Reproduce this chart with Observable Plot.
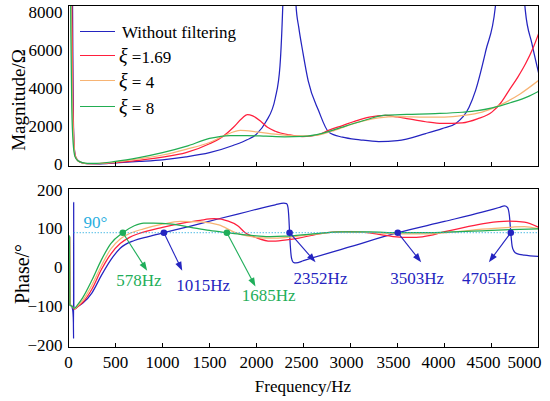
<!DOCTYPE html>
<html><head><meta charset="utf-8">
<script src="https://cdn.jsdelivr.net/npm/d3@7"></script>
<script src="https://cdn.jsdelivr.net/npm/@observablehq/plot@0.6"></script>
<style>
body{margin:0;background:#fff;}
#wrap{position:relative;width:550px;height:401px;overflow:hidden;font-family:'Liberation Serif',serif;color:#000;}
.abs{position:absolute;white-space:nowrap;line-height:1;font-family:'Liberation Serif',serif;}
.plot{position:absolute;left:0;}
.plot text{font-family:'Liberation Serif',serif;}
</style></head><body><div id="wrap"></div>
<script>
// ---------- data ----------
const seriesNames = ["Without filtering", "ξ =1.69", "ξ = 4", "ξ = 8"];
const freqTicks = [0, 500, 1000, 1500, 2000, 2500, 3000, 3500, 4000, 4500, 5000];
const magTicks = [0, 2000, 4000, 6000, 8000];
const phaseTicks = [-200, -100, 0, 100, 200];

// Magnitude (Ω)
const magBlueF = [12, 25, 35, 43, 50, 60, 75, 100, 150, 200, 300, 400, 500, 750, 1000, 1250, 1500, 1750, 1900, 2000, 2100, 2200, 2250, 2280, 2310, 2350, 2390, 2420, 2450, 2490, 2550, 2660, 2770, 2915, 3100, 3300, 3500, 3800, 3975, 4120, 4260, 4330, 4440, 4540, 4600, 4705, 4800, 4860, 4930, 5000];
const magBlue  = [30000, 20000, 12000, 8400, 3000, 1000, 400, 220, 80, 40, 35, 50, 80, 160, 250, 400, 620, 1000, 1300, 1600, 2250, 3500, 5200, 8400, 14000, 40000, 14000, 8400, 7200, 6000, 4400, 2840, 1700, 1436, 1300, 1210, 1260, 1630, 1890, 2160, 3000, 3890, 6000, 8260, 14000, 40000, 14000, 8100, 6360, 4840];
const magRedF = [10, 25, 35, 45, 55, 70, 100, 150, 200, 300, 500, 750, 1000, 1250, 1500, 1650, 1755, 1850, 1904, 1960, 2050, 2117, 2200, 2350, 2490, 2650, 2766, 2915, 3050, 3200, 3370, 3500, 3617, 3800, 3975, 4188, 4350, 4507, 4600, 4685, 4780, 4862, 4940, 5000];
const magRed  = [30000, 15000, 9000, 4000, 1500, 500, 200, 80, 40, 40, 100, 220, 385, 620, 1090, 1500, 1960, 2450, 2630, 2560, 2250, 1960, 1750, 1560, 1470, 1560, 1800, 2050, 2280, 2490, 2580, 2500, 2400, 2250, 2160, 2190, 2400, 2770, 3250, 3890, 4600, 5300, 6100, 6870];
const magOrangeF = [8, 20, 30, 40, 55, 70, 100, 150, 200, 300, 500, 750, 1000, 1250, 1500, 1650, 1830, 2000, 2200, 2400, 2600, 2800, 3000, 3300, 3500, 3800, 4000, 4200, 4400, 4600, 4800, 5000];
const magOrange  = [30000, 15000, 8000, 3500, 1300, 450, 200, 90, 50, 50, 130, 300, 500, 800, 1160, 1500, 1790, 1720, 1600, 1510, 1520, 1750, 2100, 2450, 2520, 2500, 2500, 2580, 2760, 3150, 3700, 4420];
const magGreenF = [5, 15, 25, 35, 50, 70, 100, 150, 200, 300, 500, 750, 1000, 1250, 1500, 1720, 1900, 2100, 2300, 2500, 2700, 2900, 3100, 3370, 3600, 3900, 4188, 4350, 4507, 4700, 4900, 5000];
const magGreen  = [30000, 15000, 7000, 3000, 1100, 400, 200, 100, 60, 60, 160, 360, 620, 950, 1370, 1525, 1520, 1490, 1460, 1480, 1640, 1950, 2250, 2600, 2640, 2680, 2750, 2830, 2980, 3250, 3600, 3850];

// Phase (°)
const phBlueF = [5, 30, 45, 52, 54, 55, 56.5, 60, 75, 100, 150, 250, 350, 450, 550, 700, 850, 1015, 1300, 1600, 1900, 2200, 2290, 2320, 2335, 2345, 2352, 2360, 2372, 2390, 2420, 2500, 3000, 3503, 4000, 4400, 4580, 4640, 4670, 4690, 4705, 4720, 4740, 4770, 4850, 5000];
const phBlue  = [-95, -98, -110, -140, -183, 168, -100, -106, -105, -100, -92, -65, -20, 20, 50, 70, 80, 90, 107, 126, 144, 162, 166, 165, 155, 125, 90, 55, 25, 14, 12, 18, 54, 90, 119, 143, 155, 159, 155, 135, 90, 55, 42, 36, 32, 29];
const phRedF = [5, 12, 16, 40, 60, 100, 150, 250, 350, 450, 550, 650, 750, 1000, 1200, 1400, 1550, 1700, 1800, 1880, 2000, 2150, 2300, 2450, 2600, 2750, 2950, 3150, 3350, 3550, 3700, 3850, 3960, 4200, 4450, 4680, 4850, 5000];
const phRed  = [80, 78, -95, -100, -107, -100, -90, -55, -5, 35, 62, 78, 88, 104, 114, 122, 126, 120, 108, 90, 77, 68, 71, 76, 84, 90, 93, 91, 84, 78, 78, 83, 90, 103, 115, 120, 117, 104];
const phOrangeF = [5, 12, 16, 40, 60, 100, 150, 250, 350, 450, 550, 650, 800, 1000, 1190, 1400, 1600, 1777, 1900, 2050, 2200, 2400, 2650, 2900, 3200, 3500, 3800, 4100, 4400, 4700, 4850, 5000];
const phOrange  = [80, 78, -95, -100, -106, -98, -85, -45, 5, 48, 74, 88, 100, 112, 119, 118, 110, 90, 82, 77, 76, 80, 87, 92, 91, 87, 87, 92, 99, 104, 106, 100];
const phGreenF = [3, 12, 15, 40, 60, 100, 150, 250, 350, 450, 578, 700, 800, 900, 1100, 1300, 1500, 1685, 1850, 2000, 2150, 2300, 2600, 2900, 3200, 3500, 3800, 4100, 4400, 4700, 5000];
const phGreen  = [83, 80, -97, -100, -105, -95, -78, -32, 20, 62, 90, 108, 115, 115, 112, 104, 96, 90, 85, 82, 80, 81, 87, 92, 92, 90, 90, 92, 95, 98, 100];

// 90° reference and crossing annotations
const refPhase = 90;
const refStartFreq = 60;
const refLabel = "90°";
const refLabelFreq = 287, refLabelPhase = 116;
const annFreq   = [578, 1015, 1685, 2352, 3503, 4705];
const annSeries = [3, 0, 3, 0, 0, 0];
const annLabels = ["578Hz", "1015Hz", "1685Hz", "2352Hz", "3503Hz", "4705Hz"];
const tipFreq   = [837, 1210, 1989, 2628, 3752, 4472];
const tipPhase  = [-8, -8, -49, 14, 14, 14];
const labFreq   = [748, 1433, 2128, 2681, 3709, 4472];
const labPhase  = [-34, -46, -72, -29, -29, -29];

// ---------- styling ----------
const FONT = "Liberation Serif";
const colors = ["#2424c0", "#ff1f3d", "#f7b474", "#22ad52"];
const labelColors = ["#2424c0", "#ff1f3d", "#f7b474", "#1fae5a"];
const refColor = "#2aaee0";
const xDomain = [0, 5000];
const magDomain = [-105, 8368];
const phDomain = [-206, 204];
const W = 550, ML = 68, MR = 12;
const topH = 180, topMT = 5, topMB = 14;
const botH = 221, botMT = 8, botMB = 54, botTop = 180;
const tickLabelShift = [0, 0, 0, 0, 0, -2, -4, -4, -6, -8, -14];
const fmt = d3.format("d");

const mag = [[magBlueF, magBlue], [magRedF, magRed], [magOrangeF, magOrange], [magGreenF, magGreen]];
const ph = [[phBlueF, phBlue], [phRedF, phRed], [phOrangeF, phOrange], [phGreenF, phGreen]];
const lineMarks = (sets) => sets.map(([f, v], i) =>
  Plot.line(d3.zip(f, v), {x: d => d[0], y: d => d[1], stroke: colors[i], strokeWidth: 1.25, curve: "monotone-x", clip: true}));

const wrap = document.getElementById("wrap");
const baseStyle = {fontFamily: FONT, fontSize: "17px", color: "#000", background: "transparent", overflow: "visible"};

// ---------- top: magnitude ----------
const topPlot = Plot.plot({
  width: W, height: topH, marginLeft: ML, marginRight: MR, marginTop: topMT, marginBottom: topMB,
  style: baseStyle,
  x: {domain: xDomain},
  y: {domain: magDomain},
  marks: [
    ...lineMarks(mag),
    Plot.axisY({ticks: magTicks, tickSize: 0, tickPadding: 6, label: null, tickFormat: fmt, fontFamily: FONT, fontSize: 17}),
    Plot.axisX({ticks: freqTicks, tickSize: -4, tickFormat: () => "", label: null}),
    Plot.frame({stroke: "#000", strokeWidth: 1})
  ]
});
topPlot.classList.add("plot");
topPlot.style.top = "0px";
wrap.appendChild(topPlot);

// ---------- bottom: phase ----------
const sx = d3.scaleLinear().domain(xDomain).range([ML, W - MR]);
const sy = d3.scaleLinear().domain(phDomain).range([botH - botMB, botMT]);
const ann = annFreq.map((f, i) => {
  const x0 = sx(f), y0 = sy(refPhase), x1 = sx(tipFreq[i]), y1 = sy(tipPhase[i]);
  const dx = x1 - x0, dy = y1 - y0, len = Math.hypot(dx, dy), ux = dx / len, uy = dy / len;
  return {
    f, p: refPhase, tf: tipFreq[i], tp: tipPhase[i],
    sf: sx.invert(x1 - ux * 4), sp: sy.invert(y1 - uy * 4),
    lf: labFreq[i], lp: labPhase[i], label: annLabels[i],
    color: labelColors[annSeries[i]],
    rot: Math.atan2(ux, -uy) * 180 / Math.PI
  };
});
const arrowHead = {
  draw(ctx, size) {
    const L = Math.sqrt(size / Math.PI) * 2.5, w = L * 0.36;
    ctx.moveTo(0, 0); ctx.lineTo(-w, L); ctx.lineTo(w, L); ctx.closePath();
  }
};

const botPlot = Plot.plot({
  width: W, height: botH, marginLeft: ML, marginRight: MR, marginTop: botMT, marginBottom: botMB,
  style: baseStyle,
  x: {domain: xDomain},
  y: {domain: phDomain},
  marks: [
    ...lineMarks(ph),
    Plot.ruleY([refPhase], {x1: refStartFreq, x2: xDomain[1], stroke: refColor, strokeWidth: 1, strokeDasharray: "1.2,1.8"}),
    Plot.text([refLabel], {x: refLabelFreq, y: refLabelPhase, text: d => d, fill: refColor, fontSize: 17, fontFamily: FONT}),
    Plot.link(ann, {x1: "f", y1: "p", x2: "sf", y2: "sp", stroke: "color", strokeWidth: 1.1}),
    Plot.dot(ann, {x: "tf", y: "tp", symbol: arrowHead, r: 3.6, fill: "color", stroke: null, rotate: "rot"}),
    Plot.dot(ann, {x: "f", y: "p", r: 3.3, fill: "color", stroke: null}),
    Plot.text(ann, {x: "lf", y: "lp", text: "label", fill: "color", fontSize: 17, fontFamily: FONT}),
    Plot.axisY({ticks: phaseTicks, tickSize: 0, tickPadding: 6, label: null, tickFormat: fmt, fontFamily: FONT, fontSize: 17}),
    Plot.axisX({ticks: freqTicks, tickSize: -4, tickFormat: () => "", label: null}),
    ...freqTicks.map((t, i) => Plot.axisX({ticks: [t], tickSize: 0, tickPadding: 8, label: null, tickFormat: fmt, fontFamily: FONT, fontSize: 17, dx: tickLabelShift[i]})),
    Plot.frame({stroke: "#000", strokeWidth: 1})
  ]
});
botPlot.classList.add("plot");
botPlot.style.top = botTop + "px";
wrap.appendChild(botPlot);

// ---------- axis titles ----------
function addText(txt, cx, cy, size, rotate) {
  const d = document.createElement("div");
  d.className = "abs";
  d.textContent = txt;
  d.style.fontSize = size + "px";
  d.style.left = cx + "px";
  d.style.top = cy + "px";
  d.style.transform = "translate(-50%,-50%)" + (rotate ? " rotate(-90deg)" : "");
  wrap.appendChild(d);
}
addText("Magnitude/Ω", 18, 100, 19, true);
addText("Phase/°", 22, 274, 20, true);
addText("Frequency/Hz", 303, 386, 17, false);

// ---------- legend ----------
const legendRows = [31, 55, 80, 106];
seriesNames.forEach((name, i) => {
  const ln = document.createElement("div");
  ln.className = "abs";
  ln.style.left = "80px"; ln.style.width = "35px"; ln.style.top = (legendRows[i]) + "px";
  ln.style.borderTop = "1.3px solid " + colors[i];
  wrap.appendChild(ln);
  const t = document.createElement("div");
  t.className = "abs";
  t.style.left = (i === 0 ? 122 : 119) + "px";
  t.style.top = (legendRows[i] + 1) + "px";
  t.style.transform = "translateY(-50%)";
  t.style.fontSize = "17px";
  if (i === 0) t.textContent = name;
  else {
    const xi = document.createElement("span");
    xi.textContent = name.slice(0, 1);
    xi.style.fontStyle = "italic";
    xi.style.fontSize = "20px";
    t.appendChild(xi);
    t.appendChild(document.createTextNode(name.slice(1)));
  }
  wrap.appendChild(t);
});
</script></body></html>
